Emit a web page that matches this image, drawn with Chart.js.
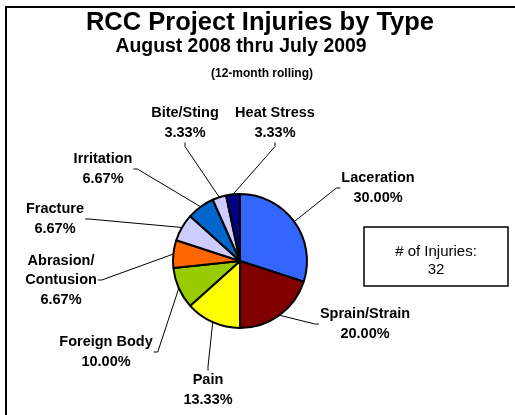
<!DOCTYPE html>
<html>
<head>
<meta charset="utf-8">
<script src="https://cdn.jsdelivr.net/npm/chart.js@4"></script>
<style>
    html, body { margin: 0; padding: 0; background: #ffffff; }
    #wrap { width: 515px; height: 415px; position: relative; }
</style>
</head>
<body>
<div id="wrap"><canvas id="pieChart" width="515" height="415"></canvas></div>
<script>
// Chart data
var categories = ['Laceration', 'Sprain/Strain', 'Pain', 'Foreign Body', 'Abrasion/\nContusion',
    'Fracture', 'Irritation', 'Bite/Sting', 'Heat Stress'];
var percentages = [30.00, 20.00, 13.33, 10.00, 6.67, 6.67, 6.67, 3.33, 3.33];
var totalInjuries = 32;

var titleLines = ['RCC Project Injuries by Type', 'August 2008 thru July 2009', '(12-month rolling)'];

// Styling / layout
var sliceColors = ['#3366FF', '#800000', '#FFFF00', '#99CC00', '#FF6600',
    '#CCCCFF', '#0066CC', '#CCCCFF', '#000080'];
// label block centre, relative to pie centre
var labelOffsets = [[138, -73], [125, 63], [-32, 129], [-134, 91], [-179, 19],
    [-185, -42], [-137, -92], [-55, -138], [35, -138]];

var FONT = '"Liberation Sans", Arial, sans-serif';

var decorPlugin = {
    id: 'decor',
    beforeDraw: function(chart) {
        var ctx = chart.ctx;
        ctx.save();
        ctx.fillStyle = '#ffffff';
        ctx.fillRect(0, 0, chart.width, chart.height);
        // outer frame (left + top edge visible)
        ctx.strokeStyle = '#000000';
        ctx.lineWidth = 2;
        ctx.beginPath();
        ctx.moveTo(6, chart.height + 2);
        ctx.lineTo(6, 7);
        ctx.lineTo(chart.width + 2, 7);
        ctx.stroke();
        // titles
        ctx.fillStyle = '#000000';
        ctx.textAlign = 'center';
        ctx.textBaseline = 'middle';
        ctx.font = 'bold 25.5px ' + FONT;
        ctx.fillText(titleLines[0], 260, 23);
        ctx.font = 'bold 19.4px ' + FONT;
        ctx.fillText(titleLines[1], 241, 47);
        ctx.font = 'bold 12px ' + FONT;
        ctx.fillText(titleLines[2], 262, 74);
        ctx.restore();
    },
    afterDraw: function(chart) {
        var ctx = chart.ctx;
        var meta = chart.getDatasetMeta(0);
        ctx.save();
        ctx.font = 'bold 14.5px ' + FONT;
        ctx.textAlign = 'center';
        ctx.textBaseline = 'middle';
        var lineH = 19.5;

        meta.data.forEach(function(arc, i) {
            var p = arc.getProps(['x', 'y', 'startAngle', 'endAngle', 'outerRadius'], true);
            var mid = (p.startAngle + p.endAngle) / 2;
            var ex = p.x + Math.cos(mid) * p.outerRadius;
            var ey = p.y + Math.sin(mid) * p.outerRadius;

            var lines = categories[i].split('\n');
            lines.push(percentages[i].toFixed(2) + '%');
            var cx = p.x + labelOffsets[i][0];
            var cy = p.y + labelOffsets[i][1];
            var w = 0;
            lines.forEach(function(t) { w = Math.max(w, ctx.measureText(t).width); });
            var h = lines.length * lineH;

            // leader line attach point on label box
            var dx = labelOffsets[i][0], dy = labelOffsets[i][1];
            var ax, ay, sx = 0, sy = 0;
            if (Math.abs(dx) > Math.abs(dy)) {
                ax = dx > 0 ? cx - w / 2 - 5 : cx + w / 2 + 5;
                ay = cy;
                sx = dx > 0 ? 4 : -4;
            } else {
                ax = cx;
                ay = dy > 0 ? cy - h / 2 - 4 : cy + h / 2 + 4;
                sy = dy > 0 ? 4 : -4;
            }
            ctx.strokeStyle = '#000000';
            ctx.lineWidth = 1;
            ctx.beginPath();
            ctx.moveTo(ex, ey);
            ctx.lineTo(ax, ay);
            ctx.lineTo(ax + sx, ay + sy);
            ctx.stroke();

            ctx.fillStyle = '#000000';
            lines.forEach(function(t, k) {
                ctx.fillText(t, cx, cy - h / 2 + lineH * (k + 0.5));
            });
        });

        // total injuries box
        ctx.fillStyle = '#ffffff';
        ctx.fillRect(364, 227, 144, 59);
        ctx.strokeStyle = '#000000';
        ctx.lineWidth = 1.5;
        ctx.strokeRect(364, 227, 144, 59);
        ctx.fillStyle = '#000000';
        ctx.font = '15px ' + FONT;
        ctx.fillText('# of Injuries:', 436, 252);
        ctx.fillText(String(totalInjuries), 436, 270);
        ctx.restore();
    }
};

document.addEventListener('DOMContentLoaded', function() {
    var ctxPie = document.getElementById('pieChart').getContext('2d');

    var pieChart = new Chart(ctxPie, {
        type: 'pie',
        data: {
            labels: categories,
            datasets: [{
                data: percentages,
                backgroundColor: sliceColors,
                borderColor: '#000000',
                borderWidth: 2
            }]
        },
        options: {
            responsive: false,
            animation: false,
            layout: {
                padding: { left: 172, right: 207, top: 193, bottom: 86 }
            },
            plugins: {
                legend: { display: false },
                title: { display: false },
                tooltip: { enabled: true }
            }
        },
        plugins: [decorPlugin]
    });
});
</script>
</body>
</html>
